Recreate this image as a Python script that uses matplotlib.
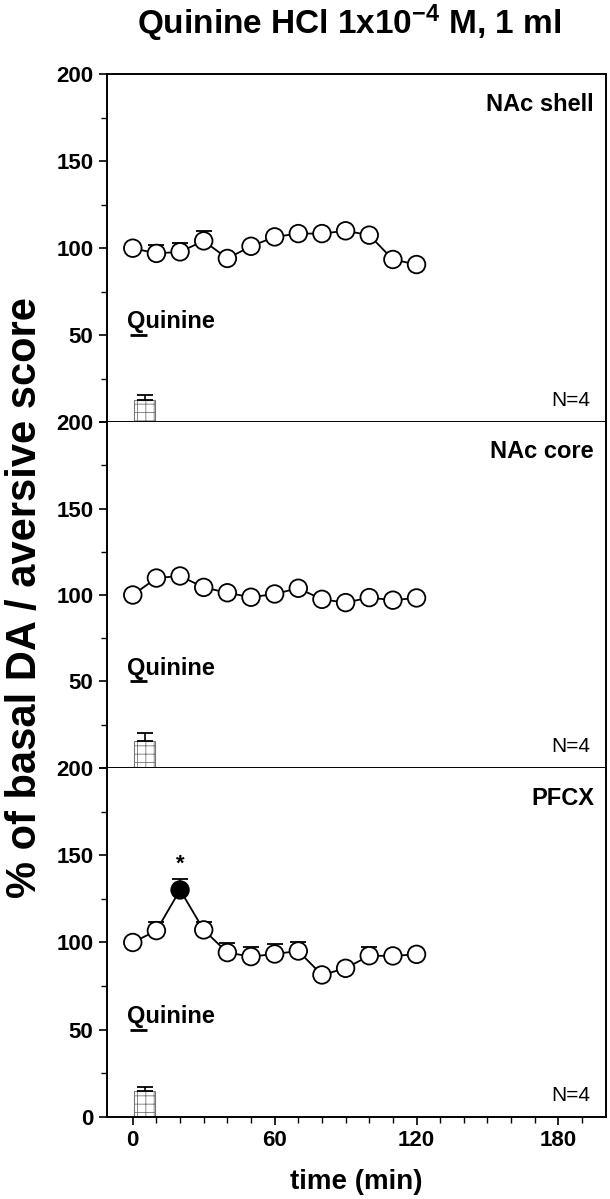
import numpy as np
import matplotlib
matplotlib.use('Agg')
import matplotlib.pyplot as plt

plt.rcParams['font.family'] = ['Liberation Sans', 'DejaVu Sans']
plt.rcParams['font.weight'] = 'bold'
plt.rcParams['axes.labelweight'] = 'bold'
plt.rcParams['mathtext.fontset'] = 'custom'
plt.rcParams['mathtext.rm'] = 'Liberation Sans:bold'
plt.rcParams['mathtext.default'] = 'rm'
plt.rcParams['hatch.color'] = '#777777'
plt.rcParams['hatch.linewidth'] = 0.6

# data
time = [0, 10, 20, 30, 40, 50, 60, 70, 80, 90, 100, 110, 120]
regions = ['NAc shell', 'NAc core', 'PFCX']

shell = [100, 97, 97.9, 104.2, 94.1, 101.1, 106.5, 108.4, 108.4, 110, 107.5, 93.5, 90.6]
shell_err = [0, 4.7, 4.8, 5.8, 0, 0, 0, 0, 0, 0, 0, 0, 0]

core = [100, 109.8, 111, 104.4, 101.3, 98.7, 100.6, 103.9, 97.5, 95.6, 98.5, 97, 98.3]
core_err = [0] * 13

pfcx = [100, 106.8, 130.1, 107.2, 94.2, 91.9, 93.4, 95.1, 81.4, 85.2, 92.4, 92.3, 93.2]
pfcx_err = [0, 5.1, 6.1, 4.7, 5.7, 5.3, 5.7, 5.0, 0, 0, 5.2, 0, 0]

means = [shell, core, pfcx]
errs = [shell_err, core_err, pfcx_err]
signif = [[], [], [20]]  # filled points (p<0.05)

aversive = [12.6, 15.8, 15.1]
aversive_err = [2.9, 4.6, 2.3]

fig = plt.figure(figsize=(6.1, 11.99), dpi=100)
left, width = 0.175, 0.818
bottoms = [0.648, 0.3595, 0.0684]
tops = [0.938, 0.648, 0.3595]

axes = []
for i in range(3):
    ax = fig.add_axes([left, bottoms[i], width, tops[i] - bottoms[i]])
    axes.append(ax)
    y = np.array(means[i])
    e = np.array(errs[i])
    # up-only error bars
    ax.errorbar(time, y, yerr=[np.zeros_like(e), e], fmt='none', ecolor='black',
                elinewidth=1.2, capsize=6, capthick=1.3, zorder=2)
    ax.plot(time, y, '-', color='black', lw=1.3, zorder=3)
    fill = ['black' if t in signif[i] else 'white' for t in time]
    ax.scatter(time, y, s=160, c=fill, edgecolors='black', linewidths=1.3, zorder=4)
    for t in signif[i]:
        k = time.index(t)
        ax.text(t, y[k] + e[k] + 2.5, '*', ha='center', va='bottom', fontsize=16)

    # aversive score bar
    ax.bar(5, aversive[i], width=9, color='white', edgecolor='#777777', hatch='++',
           linewidth=0.8, zorder=2)
    ax.errorbar(5, aversive[i], yerr=[[0], [aversive_err[i]]], fmt='none', ecolor='black',
                elinewidth=1.2, capsize=6, capthick=1.3, zorder=3)

    # quinine infusion marker
    ax.plot([-1, 6], [50, 50], color='black', lw=2, solid_capstyle='butt')
    ax.text(-2.5, 54, 'Quinine', ha='left', va='baseline', fontsize=17)

    ax.text(195, 179, regions[i], ha='right', va='baseline', fontsize=17)
    ax.text(193.5, 9, 'N=4', ha='right', va='baseline', fontsize=15, fontweight='normal')

    ax.set_xlim(-11, 200)
    ax.set_ylim(0, 200)
    ax.set_yticks([0, 50, 100, 150, 200])
    ax.set_yticks([25, 75, 125, 175], minor=True)
    if i < 2:
        ax.set_yticklabels(['', '50', '100', '150', '200'])
        ax.tick_params(axis='x', which='both', bottom=False, labelbottom=False)
    else:
        ax.set_xticks([0, 60, 120, 180])
        ax.set_xticks(np.arange(10, 200, 10), minor=True)
    if i > 0:
        ax.spines['top'].set_visible(False)
    for s in ax.spines.values():
        s.set_linewidth(1.4)
    ax.tick_params(which='major', length=6, width=1.2, labelsize=16, direction='out')
    ax.tick_params(which='minor', length=4, width=1.0, direction='out')
    for lab in ax.get_xticklabels() + ax.get_yticklabels():
        lab.set_fontweight('bold')

axes[2].set_xlabel('time (min)', fontsize=20, fontweight='bold', labelpad=13)

fig.text(0.041, 0.502, '% of basal DA / aversive score', rotation=90,
         ha='center', va='center', fontsize=30, fontweight='bold')
fig.text(0.572, 0.981, r'Quinine HCl 1x10$^{-4}$ M, 1 ml', ha='center', va='center',
         fontsize=24, fontweight='bold')

fig.savefig('out.png', dpi=100)
